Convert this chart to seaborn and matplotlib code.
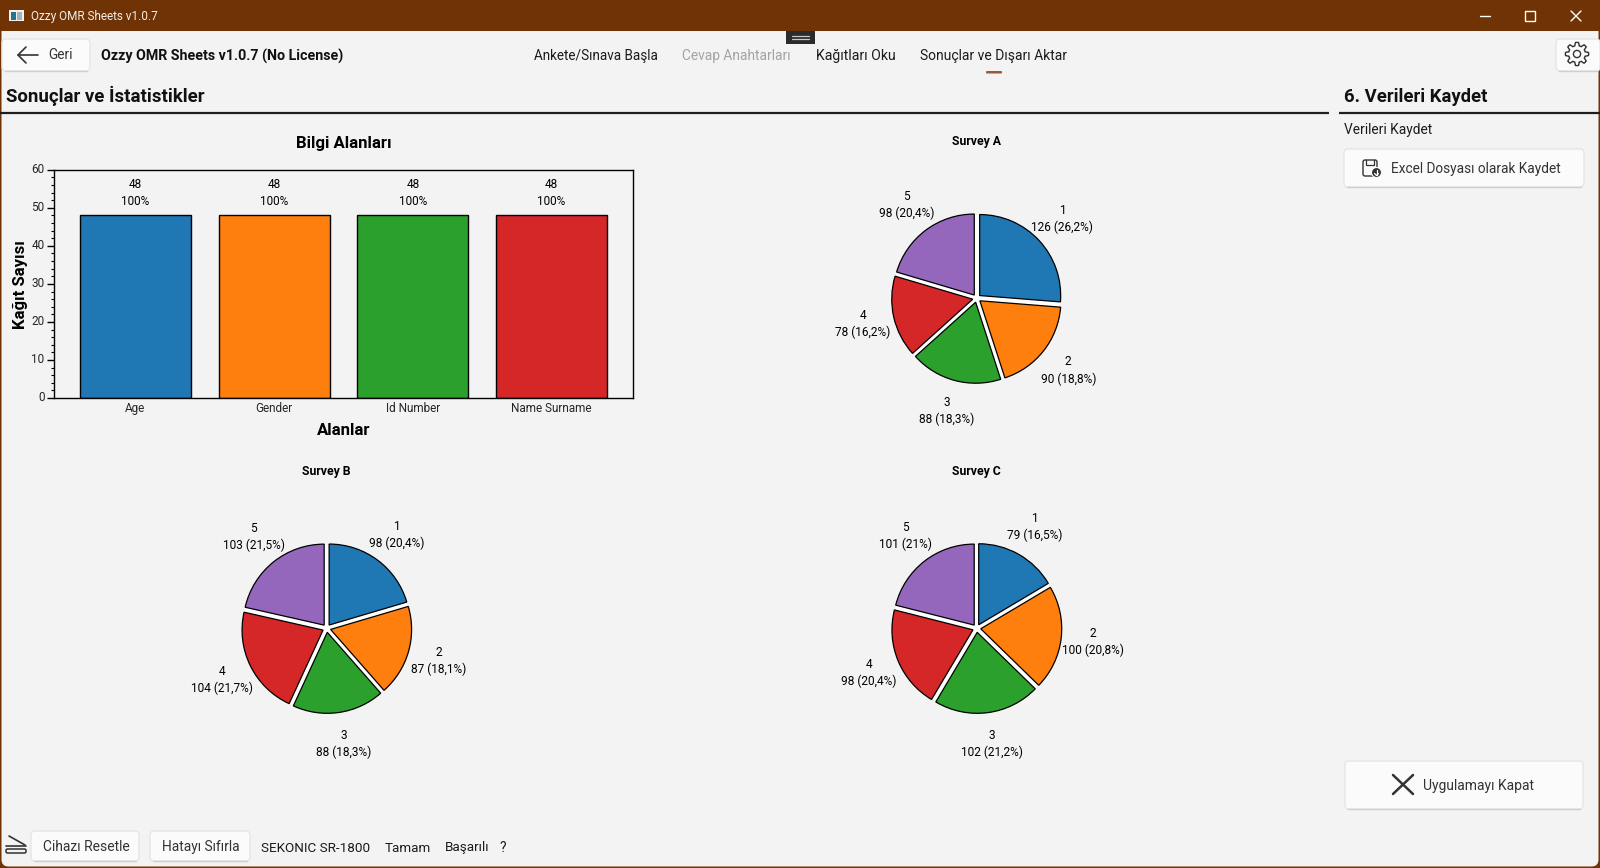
import numpy as np
import matplotlib
matplotlib.use("Agg")
import matplotlib.pyplot as plt
from matplotlib.patches import FancyBboxPatch, Rectangle, Circle
from matplotlib.ticker import MultipleLocator
from matplotlib.transforms import ScaledTranslation
import seaborn as sns

# chart values
fields = ["Age", "Gender", "Id Number", "Name Surname"]
field_counts = [48, 48, 48, 48]
field_pct = ["100%", "100%", "100%", "100%"]
options = ["1", "2", "3", "4", "5"]
survey_a = [126, 90, 88, 78, 98]
survey_b = [98, 87, 88, 104, 103]
survey_c = [79, 100, 102, 98, 101]
pct_a = ["26,2", "18,8", "18,3", "16,2", "20,4"]
pct_b = ["20,4", "18,1", "18,3", "21,7", "21,5"]
pct_c = ["16,5", "20,8", "21,2", "20,4", "21"]

W, H = 1600, 868
BG = "#f3f3f3"
BROWN = "#6f3305"
INK = "#1b1b1b"
UI_FONT = ["Roboto", "DejaVu Sans"]

sns.set_style("white")
plt.rcParams["font.family"] = UI_FONT
palette = sns.color_palette("tab10", 5)

fig = plt.figure(figsize=(W / 100, H / 100), dpi=100, facecolor=BROWN)


def px_axes(l, t, r, b, **kw):
    return fig.add_axes([l / W, 1 - b / H, (r - l) / W, (b - t) / H], **kw)


# background layer in pixel coordinates, for the window around the charts
bg = px_axes(0, 0, W, H)
bg.set_xlim(0, W)
bg.set_ylim(H, 0)
bg.axis("off")
bg.add_patch(FancyBboxPatch((1.5, 25), W - 3, H - 26.5, boxstyle="round,pad=0,rounding_size=7",
                            fc=BG, ec="none"))
bg.add_patch(Rectangle((0, 0), W, 31, fc=BROWN, ec="none"))


def label(x, y, s, size=9.8, color=INK, weight="normal", ha="left"):
    bg.text(x, y, s, fontsize=size, color=color, weight=weight, ha=ha, va="center")


def button(l, t, r, b):
    bg.add_patch(FancyBboxPatch((l, t), r - l, b - t, boxstyle="round,pad=0,rounding_size=4",
                                fc="#fbfbfb", ec="#e6e6e6", lw=1))
    bg.plot([l + 3, r - 3], [b, b], color="#cfcfcf", lw=1)


def stroke(xs, ys, lw=1.2, color="#333333"):
    bg.plot(xs, ys, color=color, lw=lw, solid_capstyle="round")


# title bar
bg.add_patch(Rectangle((9, 10), 15, 11, fc="#f2f2f2", ec="none"))
bg.add_patch(Rectangle((11, 12), 5, 8, fc="#2f6f8f", ec="none"))
bg.add_patch(Rectangle((17, 12), 5, 8, fc="#9fb7b0", ec="none"))
label(31, 16.5, "Ozzy OMR Sheets v1.0.7", size=8.45, color="#f4efe9")
stroke([1480, 1490], [15.5, 15.5], color="white", lw=1)
bg.add_patch(Rectangle((1525, 11), 9.5, 9.5, fc="none", ec="white", lw=1))
stroke([1571, 1581], [11, 21], color="white", lw=1)
stroke([1581, 1571], [11, 21], color="white", lw=1)

# top row
button(2, 39, 90, 71)
stroke([18, 38], [55, 55])
stroke([26, 18, 26], [47, 55, 63])
label(48, 55, "Geri", size=9.8, color="#333333")
label(101, 56, "Ozzy OMR Sheets v1.0.7 (No License)", size=10.3, weight="bold", color="#111111")
label(534, 56, "Ankete/Sınava Başla", size=9.75)
label(682, 56, "Cevap Anahtarları", size=9.9, color="#a3a3a3")
label(816, 56, "Kağıtları Oku", size=10.1)
label(920, 56, "Sonuçlar ve Dışarı Aktar", size=10)
bg.add_patch(FancyBboxPatch((986, 71), 16, 2.5, boxstyle="round,pad=0,rounding_size=1", fc="#9b5a34", ec="none"))
bg.add_patch(Rectangle((786, 31), 29, 13, fc="#2b2b2b", ec="none"))
stroke([792, 809], [36, 36], color="#c8c8c8", lw=0.9)
stroke([792, 809], [39, 39], color="#c8c8c8", lw=0.9)

# settings button with gear
button(1556, 39, 1600, 71)
ang = np.linspace(0, 2 * np.pi, 97)
rad = 10 + 1.6 * np.clip(3 * np.cos(8 * ang), -1, 1)
bg.plot(1577 + rad * np.cos(ang), 54 + rad * np.sin(ang), color="#333333", lw=1)
bg.add_patch(Circle((1577, 54), 3.6, fc="none", ec="#333333", lw=1))

# section headers
label(6, 95.7, "Sonuçlar ve İstatistikler", size=13.4, weight="bold", color="#111111")
bg.plot([0, 1329], [112.8, 112.8], color="#1f1f1f", lw=1.6, solid_capstyle="butt")
label(1344, 96.5, "6. Verileri Kaydet", size=13.3, weight="bold", color="#111111")
bg.plot([1339, 1600], [112.8, 112.8], color="#1f1f1f", lw=1.6, solid_capstyle="butt")
label(1344, 130, "Verileri Kaydet", size=9.9)

# right side buttons
button(1344, 149, 1584, 187)
bg.add_patch(FancyBboxPatch((1363, 160), 14, 16, boxstyle="round,pad=0,rounding_size=2", fc="none", ec="#333333", lw=1))
stroke([1366, 1366, 1374, 1374], [160, 165, 165, 160], lw=0.9)
bg.add_patch(Circle((1376.5, 172.5), 5, fc="#333333", ec="#fbfbfb", lw=0.8))
stroke([1376.5, 1376.5], [169.5, 175], color="white", lw=0.9)
stroke([1374.5, 1376.5, 1378.5], [173.5, 175.5, 173.5], color="white", lw=0.9)
label(1391, 169, "Excel Dosyası olarak Kaydet", size=9.85, color="#333333")

button(1345, 761, 1583, 809)
stroke([1393, 1413], [775, 794], lw=1.8)
stroke([1413, 1393], [775, 794], lw=1.8)
label(1423, 786, "Uygulamayı Kapat", size=10, color="#333333")

# status row
stroke([9, 25], [836, 845])
stroke([6, 26], [845.5, 845.5])
bg.add_patch(FancyBboxPatch((6, 849), 20, 4, boxstyle="round,pad=0,rounding_size=1.5", fc="none", ec="#333333", lw=1.1))
button(31, 831, 139, 861)
button(150, 831, 250, 861)
label(43, 847, "Cihazı Resetle", size=10, color="#333333")
label(162, 847, "Hatayı Sıfırla", size=9.9, color="#333333")
label(261, 848, "SEKONIC SR-1800", size=9.7)
label(385, 848, "Tamam", size=9.6)
label(445, 848, "Başarılı", size=9.7)
label(499, 848, "?", size=9.8)

# bar chart
ax = px_axes(54.2, 169.8, 633.4, 398, facecolor=BG)
sns.barplot(x=fields, y=field_counts, hue=fields, palette=palette[:4], width=0.8, legend=False,
            edgecolor="black", linewidth=1, saturation=1, ax=ax)
ax.set_xlim(-0.585, 3.59)
ax.set_ylim(0, 60)
ax.yaxis.set_major_locator(MultipleLocator(10))
ax.yaxis.set_minor_locator(MultipleLocator(2))
ax.tick_params(axis="y", which="major", left=True, length=5, width=1, pad=2, labelsize=8.5, color="black")
ax.tick_params(axis="y", which="minor", left=True, length=2.5, width=0.8, color="black")
ax.tick_params(axis="x", length=0, pad=3, labelsize=8.5)
# numbers on the y axis sit slightly above their ticks in the original
lift = ScaledTranslation(0, 2 / 100, fig.dpi_scale_trans)
for t in ax.get_yticklabels():
    t.set_transform(t.get_transform() + lift)
for s in ax.spines.values():
    s.set_visible(True)
    s.set_color("black")
    s.set_linewidth(1)
for i, c in enumerate(field_counts):
    ax.text(i, c + 5.9, f"{c}\n{field_pct[i]}", ha="center", va="center", fontsize=8.5,
            color="black", linespacing=1.38)
ax.set_xlabel("")
ax.set_ylabel("")
label(343.4, 143.7, "Bilgi Alanları", size=12.1, weight="bold", color="black", ha="center")
label(343.4, 430.5, "Alanlar", size=12.1, weight="bold", color="black", ha="center")
bg.text(20.5, 285, "Kağıt Sayısı", fontsize=12, weight="bold", color="black", rotation=90, ha="center", va="center")


def draw_pie(cx, cy, title, values, pct):
    R = 81
    span = 1.8
    size = R * span
    a = px_axes(cx - size, cy - size, cx + size, cy + size)
    # white disc under the pie, shows through the gaps between the slices
    a.pie([1], colors=["white"], radius=1.02)
    texts = [f"{o}\n{v} ({p}%)" for o, v, p in zip(options, values, pct)]
    _, labs = a.pie(values, labels=texts, colors=palette, startangle=90, counterclock=False,
                    explode=[0.05] * 5, radius=1, labeldistance=1.39,
                    wedgeprops={"edgecolor": "black", "linewidth": 0.9},
                    textprops={"fontsize": 8.55, "color": "black", "linespacing": 1.38})
    for t in labs:
        t.set_ha("center")
    a.set_xlim(-span, span)
    a.set_ylim(-span, span)
    a.patch.set_alpha(0)
    label(cx, cy - 156.5, title, size=8.8, weight="bold", color="black", ha="center")


draw_pie(976.7, 298.3, "Survey A", survey_a, pct_a)
draw_pie(326.7, 628.3, "Survey B", survey_b, pct_b)
draw_pie(976.7, 628.3, "Survey C", survey_c, pct_c)

fig.savefig("out.png", dpi=100, facecolor=fig.get_facecolor())
